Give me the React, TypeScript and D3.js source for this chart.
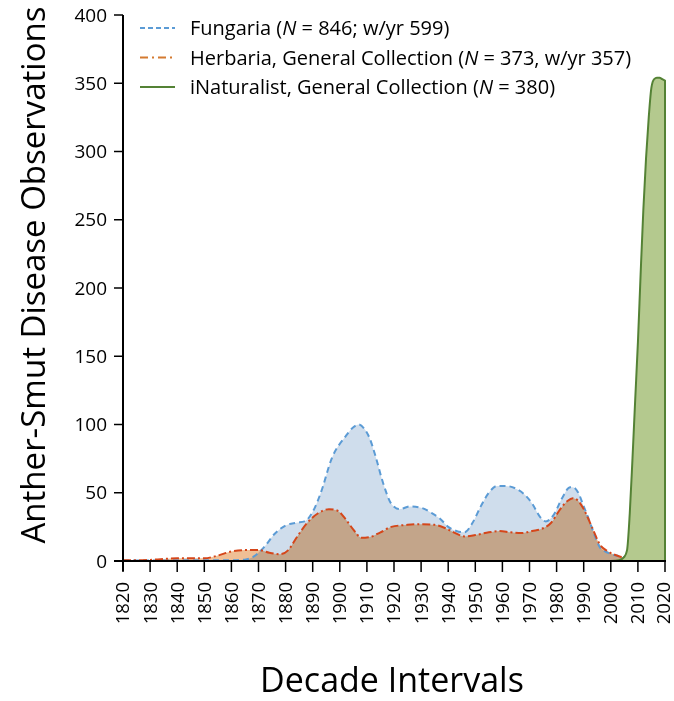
import React from 'react'
import * as d3 from 'd3'

// Fungaria (blue, dashed)
const fungYears = [1820, 1830, 1840, 1850, 1860, 1865, 1868, 1872, 1876, 1880, 1884, 1887, 1890, 1893, 1897, 1902, 1905, 1907, 1909, 1911, 1913, 1916, 1919, 1922, 1926, 1930, 1934, 1937, 1940, 1943, 1946, 1949, 1952, 1955, 1958, 1961, 1965, 1968, 1971, 1974, 1976, 1979, 1982, 1985, 1986, 1988, 1990, 1992, 1994, 1996, 1999, 2002, 2006, 2010, 2015, 2020]
const fungValues = [0.3, 0.3, 0.5, 0.5, 0.5, 1, 3, 10, 20, 26, 28, 29, 36, 50, 75, 91, 98, 100, 97, 90, 78, 57, 42, 38, 40, 39, 35, 31, 25, 22, 21, 28, 40, 50, 55, 55, 53, 49, 42, 32, 29, 34, 46, 54, 54, 50, 40, 30, 19, 10, 6, 4, 2.5, 1.5, 1, 0.5]

// Herbaria, General Collection (orange, dash-dot)
const herbYears = [1820, 1825, 1830, 1835, 1840, 1845, 1850, 1855, 1860, 1865, 1870, 1874, 1878, 1881, 1884, 1888, 1892, 1896, 1899, 1902, 1905, 1908, 1911, 1915, 1919, 1925, 1930, 1935, 1939, 1942, 1946, 1950, 1955, 1959, 1963, 1967, 1971, 1975, 1978, 1981, 1984, 1986, 1988, 1990, 1993, 1996, 1999, 2003, 2007, 2011, 2015, 2020]
const herbValues = [0.5, 0.5, 0.8, 1.5, 2, 2, 2, 4, 7, 8, 8, 6, 5, 8, 17, 28, 35, 38, 37, 31, 23, 17, 17.5, 21, 25, 26.5, 27, 26.5, 24, 21, 18, 19, 21, 22, 21, 20.5, 22, 24, 28, 37, 44, 46, 44, 38, 25, 12, 7, 3.5, 1.8, 0.8, 0.3, 0]

// iNaturalist, General Collection (green, solid)
const inatYears = [2000, 2003, 2005, 2006, 2007, 2008, 2009, 2010, 2011, 2012, 2013, 2014, 2015, 2016, 2017, 2018, 2019, 2020]
const inatValues = [0, 0.5, 3, 8, 35, 75, 118, 160, 210, 257, 295, 325, 347, 353, 354, 354, 353, 352]

const xTicks = d3.range(1820, 2021, 10)
const yTicks = [0, 50, 100, 150, 200, 250, 300, 350, 400]

const font = 'Open Sans, sans-serif'

type Pt = { year: number, value: number }
const zip = (ys: number[], vs: number[]): Pt[] => ys.map((y, i) => ({ year: y, value: vs[i] }))

export default function App() {
  let x = d3.scaleLinear().domain([1820, 2020]).range([123, 665])
  let y = d3.scaleLinear().domain([0, 400]).range([561, 15])

  let area = d3.area<Pt>()
    .x(d => x(d.year))
    .y0(y(0))
    .y1(d => y(d.value))
    .curve(d3.curveMonotoneX)
  let line = d3.line<Pt>()
    .x(d => x(d.year))
    .y(d => y(d.value))
    .curve(d3.curveMonotoneX)

  let fung = zip(fungYears, fungValues)
  let herb = zip(herbYears, herbValues)
  let inat = zip(inatYears, inatValues)

  let legend = [
    { label: 'Fungaria (', rest: ' = 846; w/yr 599)', color: '#5B9BD5', dash: '5,3' },
    { label: 'Herbaria, General Collection (', rest: ' = 373, w/yr 357)', color: '#D47A30', dash: '8,4,2,4' },
    { label: 'iNaturalist, General Collection (', rest: ' = 380)', color: '#548235', dash: '' },
  ]

  return (
    <svg width={674} height={701} style={{ position: 'absolute', left: 0, top: 0, background: '#fff' }} fontFamily={font}>
      {/* areas */}
      <path d={area(fung) || ''} fill="#CFDDEC" />
      <path d={area(herb) || ''} fill="#F0BF95" style={{ mixBlendMode: 'multiply' }} />
      <path d={line(fung) || ''} fill="none" stroke="#5B9BD5" strokeWidth={2} strokeDasharray="6,4" />
      <path d={line(herb) || ''} fill="none" stroke="#D5461A" strokeWidth={2} strokeDasharray="8,3,2,3" />
      <path d={area(inat) || ''} fill="#B4C98E" stroke="#548235" strokeWidth={2} strokeLinejoin="round" />

      {/* y axis */}
      <line x1={123} x2={123} y1={15} y2={571} stroke="#000" strokeWidth={2} />
      {yTicks.map(t => (
        <g key={t}>
          <line x1={114} x2={123} y1={y(t)} y2={y(t)} stroke="#000" strokeWidth={1.5} />
          <text x={107} y={y(t)} dy="0.35em" textAnchor="end" fontSize={19} fill="#000">{t}</text>
        </g>
      ))}
      {/* x axis */}
      <line x1={114} x2={666} y1={561} y2={561} stroke="#000" strokeWidth={2} />
      {xTicks.map(t => (
        <g key={t}>
          <line x1={x(t)} x2={x(t)} y1={561} y2={572} stroke="#000" strokeWidth={1.5} />
          <text transform={`translate(${Math.min(x(t), 664)},582) rotate(-90)`} dy="0.35em" textAnchor="end" fontSize={18.5} fill="#000">{t}</text>
        </g>
      ))}

      {/* titles */}
      <text transform="translate(45,275) rotate(-90)" textAnchor="middle" fontSize={33} fill="#000">Anther-Smut Disease Observations</text>
      <text x={392} y={692} textAnchor="middle" fontSize={34} fill="#000">Decade Intervals</text>

      {/* legend */}
      {legend.map((l, i) => (
        <g key={i} transform={`translate(0,${28 + i * 29.5})`}>
          <line x1={140} x2={175} y1={0} y2={0} stroke={l.color} strokeWidth={2} strokeDasharray={l.dash} />
          <text x={190} y={0} dy="0.35em" fontSize={20} fill="#000">
            {l.label}<tspan fontStyle="italic">N</tspan>{l.rest}
          </text>
        </g>
      ))}
    </svg>
  )
}
